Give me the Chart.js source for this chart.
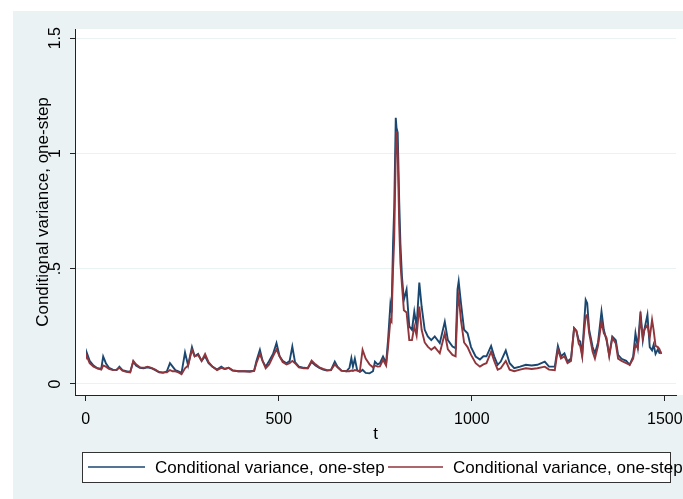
<!DOCTYPE html>
<html>
<head>
<meta charset="utf-8">
<script src="https://cdn.jsdelivr.net/npm/chart.js@4.4.0/dist/chart.umd.min.js"></script>
<style>
  html, body { margin: 0; padding: 0; background: #fff; }
  #wrap { width: 683px; height: 499px; }
</style>
</head>
<body>
<div id="wrap"><canvas id="cv" width="683" height="499"></canvas></div>
<script>
// values
const tValues = [
  1, 3, 10, 20, 30, 40, 45, 52, 60, 70,
  80, 87, 95, 105, 115, 123, 130, 140, 150, 160,
  170, 180, 190, 200, 210, 218, 225, 232, 240, 248,
  257, 265, 275, 282, 291, 300, 309, 318, 328, 340,
  351, 360, 370, 380, 395, 410, 425, 436, 442, 451,
  458, 466, 475, 485, 494, 502, 510, 520, 528, 535,
  542, 552, 565, 575, 585, 595, 605, 615, 625, 635,
  645, 652, 662, 675, 683, 688, 692, 697, 703, 710,
  717, 725, 735, 744, 749, 756, 762, 770, 778, 783,
  789, 792, 796, 799, 803, 805, 808, 812, 815, 819,
  824, 831, 838, 845, 851, 857, 864, 870, 878, 886,
  895, 904, 917, 930, 938, 950, 958, 963, 966, 972,
  980, 989, 998, 1010, 1021, 1030, 1038, 1050, 1058, 1067,
  1075, 1088, 1098, 1110, 1125, 1140, 1155, 1170, 1189, 1200,
  1215, 1223, 1231, 1240, 1248, 1257, 1265, 1271, 1277, 1281,
  1286, 1290, 1295, 1299, 1304, 1313, 1319, 1327, 1336, 1342,
  1349, 1356, 1364, 1373, 1379, 1388, 1400, 1409, 1418, 1424,
  1430, 1437, 1443, 1447, 1455, 1461, 1467, 1471, 1476, 1482,
  1486, 1491
];
const varianceA = [
  .125, .133, .1, .08, .068, .065, .119, .09, .07, .062,
  .06, .075, .06, .055, .052, .097, .08, .07, .068, .072,
  .068, .06, .05, .048, .055, .09, .075, .06, .055, .048,
  .136, .08, .16, .12, .13, .1, .12, .09, .075, .062,
  .075, .065, .07, .058, .055, .055, .055, .057, .1, .148,
  .1, .075, .1, .13, .177, .12, .1, .09, .1, .162,
  .095, .075, .07, .068, .095, .08, .07, .062, .058, .06,
  .097, .075, .058, .055, .07, .112, .075, .11, .06, .052,
  .061, .048, .046, .055, .097, .085, .09, .119, .09, .19,
  .343, .31, .61, .765, 1.155, 1.11, 1.09, .787, .61, .467,
  .365, .41, .25, .235, .314, .25, .44, .336, .235, .206,
  .19, .206, .177, .27, .19, .162, .155, .41, .445, .35,
  .235, .22, .16, .119, .106, .12, .12, .165, .12, .083,
  .097, .145, .09, .068, .075, .083, .08, .083, .097, .075,
  .075, .165, .12, .133, .097, .11, .242, .23, .19, .184,
  .126, .235, .365, .35, .235, .16, .133, .18, .314, .235,
  .19, .126, .206, .19, .126, .109, .1, .083, .119, .22,
  .16, .314, .19, .235, .3, .16, .146, .17, .13, .15,
  .135, .14
];
const varianceB = [
  .11, .118, .09, .075, .068, .062, .08, .075, .065, .06,
  .062, .07, .058, .053, .05, .1, .085, .072, .07, .075,
  .07, .062, .052, .05, .05, .06, .055, .055, .05, .042,
  .068, .08, .148, .12, .125, .1, .13, .095, .075, .06,
  .07, .065, .07, .06, .055, .055, .053, .056, .09, .13,
  .1, .068, .085, .12, .15, .12, .095, .085, .09, .1,
  .09, .072, .068, .068, .101, .085, .072, .065, .06, .06,
  .085, .072, .058, .055, .055, .058, .056, .06, .058, .055,
  .148, .11, .085, .072, .08, .075, .076, .105, .08, .16,
  .278, .27, .5, .63, 1.0, 1.097, 1.0, .684, .525, .43,
  .32, .31, .19, .19, .25, .21, .336, .235, .18, .162,
  .148, .16, .133, .22, .15, .126, .12, .336, .38, .275,
  .18, .16, .126, .09, .075, .085, .09, .14, .1, .062,
  .068, .1, .062, .055, .062, .068, .065, .068, .075, .062,
  .06, .15, .11, .12, .09, .1, .242, .23, .175, .163,
  .12, .21, .293, .3, .22, .14, .11, .165, .27, .22,
  .2, .12, .2, .175, .11, .1, .09, .083, .11, .17,
  .155, .285, .2, .235, .256, .2, .278, .235, .165, .16,
  .152, .13
];
const seriesLabels = ['Conditional variance, one-step', 'Conditional variance, one-step'];
const xTicks = [0, 500, 1000, 1500];
const yTicks = [0, 0.5, 1, 1.5];
const yTickLabels = ['0', '.5', '1', '1.5'];

const BLUE = '#1a476f';
const RED = '#90353b';
const BG = '#eaf2f3';
const AXIS = '#222';
const FONT = '"Liberation Sans", Arial, sans-serif';

const stataFrame = {
  id: 'stataFrame',
  beforeDraw(chart) {
    const ctx = chart.ctx;
    const a = chart.chartArea;
    ctx.save();
    ctx.fillStyle = '#fff';
    ctx.fillRect(0, 0, chart.width, chart.height);
    ctx.fillStyle = BG;
    ctx.fillRect(13, 11, chart.width - 13, chart.height - 11);
    ctx.fillStyle = '#fff';
    ctx.fillRect(a.left, a.top, chart.width - a.left, a.bottom - a.top);
    ctx.restore();
  },
  afterDraw(chart) {
    const ctx = chart.ctx;
    const y = chart.scales.y;
    const a = chart.chartArea;
    ctx.save();
    ctx.fillStyle = '#000';

    // rotated y tick labels
    ctx.font = '16px ' + FONT;
    ctx.textAlign = 'center';
    ctx.textBaseline = 'alphabetic';
    yTicks.forEach((v, i) => {
      ctx.save();
      ctx.translate(60, y.getPixelForValue(v));
      ctx.rotate(-Math.PI / 2);
      ctx.fillText(yTickLabels[i], 0, 0);
      ctx.restore();
    });

    // axis titles
    ctx.font = '17px ' + FONT;
    ctx.save();
    ctx.translate(48, (a.top + a.bottom) / 2);
    ctx.rotate(-Math.PI / 2);
    ctx.fillText('Conditional variance, one-step', 0, 0);
    ctx.restore();
    ctx.fillText('t', (a.left + a.right) / 2, 439);

    // legend, stata style (second label runs past the box)
    ctx.fillStyle = '#fff';
    ctx.fillRect(82.5, 452.5, 588, 30);
    ctx.strokeStyle = '#333';
    ctx.lineWidth = 1;
    ctx.strokeRect(82.5, 452.5, 588, 30);
    ctx.fillStyle = '#000';
    ctx.textAlign = 'left';
    ctx.fillText(seriesLabels[0], 155, 473);
    ctx.fillText(seriesLabels[1], 453, 473);
    ctx.lineWidth = 1.5;
    ctx.strokeStyle = BLUE;
    ctx.beginPath(); ctx.moveTo(88, 467); ctx.lineTo(145, 467); ctx.stroke();
    ctx.strokeStyle = RED;
    ctx.beginPath(); ctx.moveTo(388, 467); ctx.lineTo(443, 467); ctx.stroke();
    ctx.restore();
  }
};

new Chart('cv', {
  type: 'line',
  data: {
    datasets: [
      {
        label: seriesLabels[0],
        data: tValues.map((t, i) => ({ x: t, y: varianceA[i] })),
        borderColor: BLUE,
        borderWidth: 1.9,
        pointRadius: 0,
        tension: 0,
        order: 1,
      },
      {
        label: seriesLabels[1],
        data: tValues.map((t, i) => ({ x: t, y: varianceB[i] })),
        borderColor: RED,
        borderWidth: 1.9,
        pointRadius: 0,
        tension: 0,
        order: 0,
      },
    ],
  },
  options: {
    responsive: false,
    animation: false,
    layout: { padding: { top: 29, right: 7, left: 0, bottom: 0 } },
    plugins: { legend: { display: false }, tooltip: { enabled: false } },
    scales: {
      x: {
        type: 'linear',
        min: -28,
        max: 1529,
        afterBuildTicks: (s) => { s.ticks = xTicks.map(v => ({ value: v })); },
        afterFit: (s) => { s.height = 104; s.paddingLeft = 0; s.paddingRight = 0; },
        grid: { drawOnChartArea: false, tickLength: 6, tickColor: AXIS },
        border: { color: AXIS, width: 1 },
        ticks: {
          padding: 9,
          color: '#000',
          font: { family: FONT, size: 16 },
          maxRotation: 0,
          callback: (v) => String(v),
        },
      },
      y: {
        min: -0.048,
        max: 1.54,
        afterBuildTicks: (s) => { s.ticks = yTicks.map(v => ({ value: v })); },
        afterFit: (s) => { s.width = 75; s.paddingTop = 0; s.paddingBottom = 0; },
        grid: { color: BG, tickLength: 5, tickColor: AXIS },
        border: { color: AXIS, width: 1 },
        ticks: { display: false },
      },
    },
  },
  plugins: [stataFrame],
});
</script>
</body>
</html>
